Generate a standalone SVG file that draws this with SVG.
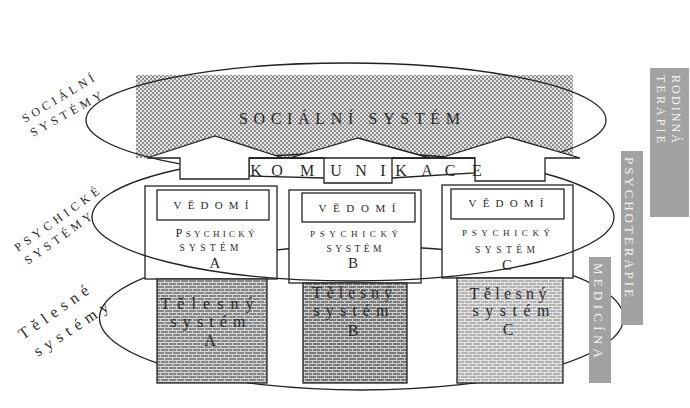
<svg xmlns="http://www.w3.org/2000/svg" width="690" height="408" viewBox="0 0 690 408">
<defs>
<pattern id="chk" width="4" height="4" patternUnits="userSpaceOnUse"><rect width="4" height="4" fill="#e4e4e4"/><rect width="2" height="2" fill="#8e8e8e"/><rect x="2" y="2" width="2" height="2" fill="#8e8e8e"/></pattern>
<pattern id="brickA" width="8" height="6" patternUnits="userSpaceOnUse"><rect width="8" height="6" fill="#878787"/><path d="M0,0.5H8M0,3.5H8M0.5,0V3M4.5,3V6" stroke="#d6d6d6" stroke-width="1"/></pattern>
<pattern id="brickB" width="8" height="6" patternUnits="userSpaceOnUse"><rect width="8" height="6" fill="#7a7a7a"/><path d="M0,0.5H8M0,3.5H8M0.5,0V3M4.5,3V6" stroke="#cfcfcf" stroke-width="1"/></pattern>
<pattern id="brickC" width="8" height="6" patternUnits="userSpaceOnUse"><rect width="8" height="6" fill="#b4b4b4"/><path d="M0,0.5H8M0,3.5H8M0.5,0V3M4.5,3V6" stroke="#e6e6e6" stroke-width="1"/></pattern>
</defs>
<style>
.ln{fill:none;stroke:#222;stroke-width:1.3}
.wb{fill:#fff;stroke:#222;stroke-width:1.3}
.t{font-family:"Liberation Serif","DejaVu Serif",serif;fill:#2a2a2a}
.m{text-anchor:middle}
.bar{fill:#a2a2a2}
.bt{font-family:"Liberation Serif","DejaVu Serif",serif;fill:#f2f2f2}
</style>
<rect width="690" height="408" fill="#fff"/>

<g id="social">
<rect x="136" y="75" width="437" height="83" fill="url(#chk)"/>
<ellipse class="ln" cx="346" cy="120" rx="260" ry="57"/>
</g>

<g id="bodyEllipse">
<ellipse class="ln" cx="361.5" cy="318" rx="262" ry="72"/>
</g>

<g id="psychA">
<rect class="wb" x="145" y="186" width="132" height="93"/>
<rect class="wb" x="157" y="190" width="112" height="30"/>
</g>
<g id="psychB">
<rect class="wb" x="289" y="190" width="132" height="93"/>
<rect class="wb" x="302" y="193" width="113" height="29"/>
</g>
<g id="psychC">
<rect class="wb" x="442" y="185" width="131" height="93"/>
<rect class="wb" x="451" y="189" width="113" height="30"/>
</g>

<g id="psychEllipse">
<ellipse class="ln" cx="353" cy="217" rx="261" ry="64"/>
</g>

<g id="connectors">
<path class="wb" d="M249,158 H475 V173 L392,178 H324 L249,176 Z"/>
<path class="wb" d="M180,179 V158 H147 L215,136 L283,158 H249 V179 Z"/>
<path class="wb" d="M324,183 V158 H290 L358,138 L430,158 H392 V183 Z"/>
<path class="wb" d="M475,181 V158 H440 L508,137 L580,158 H545 V181 Z"/>
<path class="ln" d="M249,158 H475"/>
<text class="t m" font-size="16" y="176" x="256 277 307 336 361 383 401 427 450 477">KOMUNIKACE</text>
</g>

<g id="bodyA">
<rect x="157" y="279" width="110" height="104" fill="url(#brickA)" stroke="#222" stroke-width="1.3"/>
<text class="t m" font-size="16" x="207" y="309" textLength="93" lengthAdjust="spacing">Tělesný</text>
<text class="t m" font-size="16" x="208" y="327" textLength="75" lengthAdjust="spacing">systém</text>
<text class="t m" font-size="16" x="210" y="346">A</text>
</g>
<g id="bodyB">
<rect x="303" y="283" width="104" height="100" fill="url(#brickB)" stroke="#222" stroke-width="1.3"/>
<text class="t m" font-size="16" x="352" y="298" textLength="80" lengthAdjust="spacing">Tělesný</text>
<text class="t m" font-size="16" x="351" y="316" textLength="75" lengthAdjust="spacing">systém</text>
<text class="t m" font-size="16" x="353" y="336">B</text>
</g>
<g id="bodyC">
<rect x="457" y="278" width="106" height="105" fill="url(#brickC)" stroke="#222" stroke-width="1.3"/>
<text class="t m" font-size="16" x="508" y="299" textLength="77" lengthAdjust="spacing">Tělesný</text>
<text class="t m" font-size="16" x="511" y="316" textLength="77" lengthAdjust="spacing">systém</text>
<text class="t m" font-size="16" x="508" y="335">C</text>
</g>

<g id="labelsA">
<text class="t m" font-size="11" x="211" y="209" textLength="75" lengthAdjust="spacing">VĚDOMÍ</text>
<text class="t m" x="215" y="237" textLength="79" lengthAdjust="spacing"><tspan font-size="12.5">P</tspan><tspan font-size="9">SYCHICKÝ</tspan></text>
<text class="t m" font-size="9.5" x="209" y="251" textLength="59" lengthAdjust="spacing">SYSTÉM</text>
<text class="t m" font-size="15" x="215" y="268">A</text>
</g>
<g id="labelsB">
<text class="t m" font-size="11" x="357" y="212" textLength="77" lengthAdjust="spacing">VĚDOMÍ</text>
<text class="t m" font-size="9" x="354" y="237" textLength="88" lengthAdjust="spacing">PSYCHICKÝ</text>
<text class="t m" font-size="9.5" x="354" y="252" textLength="55" lengthAdjust="spacing">SYSTÉM</text>
<text class="t m" font-size="15" x="353" y="268">B</text>
</g>
<g id="labelsC">
<text class="t m" font-size="11" x="506" y="207" textLength="75" lengthAdjust="spacing">VĚDOMÍ</text>
<text class="t m" font-size="9" x="506" y="236" textLength="88" lengthAdjust="spacing">PSYCHICKÝ</text>
<text class="t m" font-size="9.5" x="505" y="253" textLength="60" lengthAdjust="spacing">SYSTÉM</text>
<text class="t m" font-size="15" x="507" y="270">C</text>
</g>

<g id="socialLabel">
<text class="t" font-size="16" x="239" y="124" textLength="221" lengthAdjust="spacing">SOCIÁLNÍ SYSTÉM</text>
</g>

<g id="sideLabels">
<text class="t" font-size="12" transform="translate(25,123) rotate(-31)" textLength="82" lengthAdjust="spacing">SOCIÁLNÍ</text>
<text class="t" font-size="12" transform="translate(33,137) rotate(-29)" textLength="80" lengthAdjust="spacing">SYSTÉMY</text>
<text class="t" font-size="12" transform="translate(18,252) rotate(-35.5)" textLength="101" lengthAdjust="spacing">PSYCHICKÉ</text>
<text class="t" font-size="12" transform="translate(28,265) rotate(-35.5)" textLength="80" lengthAdjust="spacing">SYSTÉMY</text>
<text class="t" font-size="16" transform="translate(23,340) rotate(-35)" textLength="82" lengthAdjust="spacing">Tělesné</text>
<text class="t" font-size="16" transform="translate(38,357) rotate(-33.5)" textLength="86" lengthAdjust="spacing">systémy</text>
</g>

<g id="rodinna">
<rect class="bar" x="650" y="68" width="39" height="149"/>
<text class="bt" font-size="12" transform="translate(672,75) rotate(90)" textLength="68" lengthAdjust="spacing">RODINNÁ</text>
<text class="bt" font-size="12" transform="translate(657,75) rotate(90)" textLength="68" lengthAdjust="spacing">TERAPIE</text>
</g>
<g id="psychoterapie">
<rect class="bar" x="621" y="151" width="22" height="174"/>
<text class="bt" font-size="13" transform="translate(625,157) rotate(90)" textLength="140" lengthAdjust="spacing">PSYCHOTERAPIE</text>
</g>
<g id="medicina">
<rect class="bar" x="589" y="257" width="22" height="126"/>
<text class="bt" font-size="13" transform="translate(594,263) rotate(90)" textLength="95" lengthAdjust="spacing">MEDICÍNA</text>
</g>
</svg>
